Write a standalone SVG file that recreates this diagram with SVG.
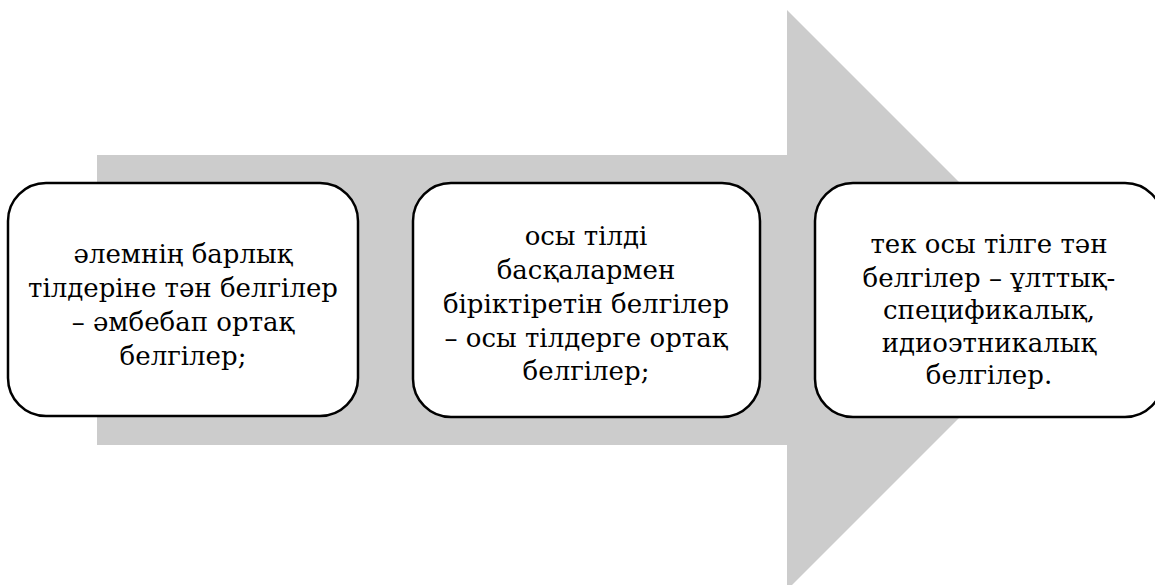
<svg xmlns="http://www.w3.org/2000/svg" width="1155" height="585" viewBox="0 0 1155 585">
<style>
.box{fill:#fff;stroke:#000;stroke-width:2.5}
</style>
<rect width="1155" height="585" fill="#fff"/>
<g id="arrow">
<polygon points="97,155 787,155 787,10 1077,300 787,590 787,445 97,445" fill="#cccccc"/>
</g>
<g id="connectors"></g>
<g id="node1">
<rect class="box" x="8" y="183" width="350" height="233" rx="38"/>
<text x="183" y="263" font-family="DejaVu Serif" font-size="26" text-anchor="middle">әлемнің барлық</text>
<text x="183" y="297" font-family="DejaVu Serif" font-size="26" text-anchor="middle">тілдеріне тән белгілер</text>
<text x="183" y="331" font-family="DejaVu Serif" font-size="26" text-anchor="middle">– әмбебап ортақ</text>
<text x="183" y="365" font-family="DejaVu Serif" font-size="26" text-anchor="middle">белгілер;</text>
</g>
<g id="node2">
<rect class="box" x="413" y="183" width="347" height="234" rx="38"/>
<text x="586" y="245" font-family="DejaVu Serif" font-size="26" text-anchor="middle">осы тілді</text>
<text x="586" y="279" font-family="DejaVu Serif" font-size="26" text-anchor="middle">басқалармен</text>
<text x="586" y="313" font-family="DejaVu Serif" font-size="26" text-anchor="middle">біріктіретін белгілер</text>
<text x="586" y="347" font-family="DejaVu Serif" font-size="26" text-anchor="middle">– осы тілдерге ортақ</text>
<text x="586" y="380" font-family="DejaVu Serif" font-size="26" text-anchor="middle">белгілер;</text>
</g>
<g id="node3">
<rect class="box" x="815" y="183" width="348" height="234" rx="38"/>
<text x="989" y="253" font-family="DejaVu Serif" font-size="26" text-anchor="middle">тек осы тілге тән</text>
<text x="989" y="287" font-family="DejaVu Serif" font-size="26" text-anchor="middle">белгілер – ұлттық-</text>
<text x="989" y="319" font-family="DejaVu Serif" font-size="26" text-anchor="middle">спецификалық,</text>
<text x="989" y="352" font-family="DejaVu Serif" font-size="26" text-anchor="middle">идиоэтникалық</text>
<text x="989" y="384" font-family="DejaVu Serif" font-size="26" text-anchor="middle">белгілер.</text>
</g>
</svg>
